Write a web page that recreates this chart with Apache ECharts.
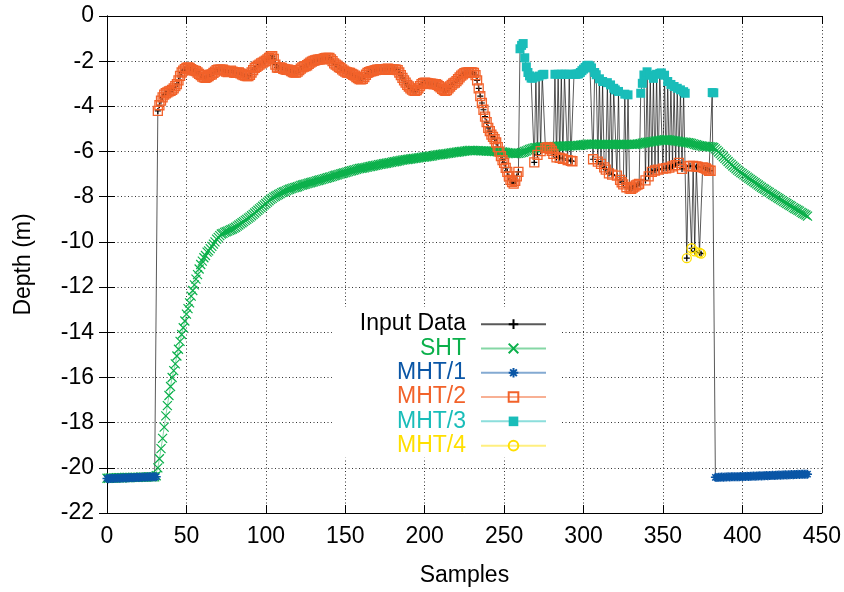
<!DOCTYPE html>
<html>
<head>
<meta charset="utf-8">
<script src="https://cdn.jsdelivr.net/npm/echarts@6/dist/echarts.min.js"></script>
<style>
  html, body { margin: 0; padding: 0; background: #fff; }
  #chart { width: 844px; height: 592px; }
</style>
</head>
<body>
<div id="chart"></div>
<script>
// Measured depth per sample (metres), samples 0..441
const inputDepth = [
  -20.47,-20.48,-20.47,-20.46,-20.47,-20.46,-20.46,-20.45,-20.46,-20.45, // 0
  -20.45,-20.44,-20.45,-20.44,-20.44,-20.43,-20.44,-20.43,-20.43,-20.42, // 10
  -20.43,-20.42,-20.42,-20.41,-20.42,-20.41,-20.41,-20.40,-20.41,-20.40, // 20
  -20.40,-20.39,-4.20,-3.95,-3.75,-3.60,-3.48,-3.42,-3.38,-3.34,         // 30
  -3.31,-3.27,-3.20,-3.10,-3.02,-2.85,-2.65,-2.50,-2.42,-2.35,           // 40
  -2.30,-2.28,-2.30,-2.35,-2.40,-2.42,-2.44,-2.50,-2.56,-2.62,           // 50
  -2.68,-2.72,-2.74,-2.70,-2.66,-2.60,-2.58,-2.52,-2.46,-2.40,           // 60
  -2.38,-2.37,-2.37,-2.38,-2.42,-2.46,-2.48,-2.45,-2.42,-2.46,           // 70
  -2.50,-2.52,-2.51,-2.50,-2.54,-2.58,-2.62,-2.64,-2.66,-2.66,           // 80
  -2.60,-2.50,-2.40,-2.30,-2.25,-2.20,-2.15,-2.10,-2.06,-2.02,           // 90
  -1.98,-1.92,-1.85,-1.80,-1.78,-1.90,-2.15,-2.28,-2.30,-2.28,           // 100
  -2.30,-2.34,-2.36,-2.38,-2.37,-2.40,-2.44,-2.48,-2.50,-2.51,           // 110
  -2.46,-2.40,-2.33,-2.27,-2.24,-2.22,-2.18,-2.12,-2.06,-2.02,           // 120
  -1.99,-1.96,-1.94,-1.93,-1.92,-1.92,-1.90,-1.87,-1.86,-1.85,           // 130
  -1.86,-1.92,-2.00,-2.10,-2.15,-2.20,-2.26,-2.30,-2.36,-2.42,           // 140
  -2.46,-2.50,-2.51,-2.52,-2.56,-2.60,-2.64,-2.70,-2.75,-2.79,           // 150
  -2.80,-2.78,-2.70,-2.60,-2.52,-2.48,-2.45,-2.44,-2.42,-2.40,           // 160
  -2.38,-2.37,-2.36,-2.37,-2.38,-2.36,-2.34,-2.33,-2.35,-2.38,           // 170
  -2.37,-2.36,-2.37,-2.40,-2.50,-2.62,-2.74,-2.85,-2.95,-3.05,           // 180
  -3.12,-3.20,-3.26,-3.30,-3.31,-3.28,-3.20,-3.10,-3.02,-2.97,           // 190
  -2.95,-2.96,-2.98,-2.99,-3.00,-3.01,-3.02,-3.02,-3.05,-3.10,           // 200
  -3.16,-3.22,-3.28,-3.31,-3.28,-3.20,-3.12,-3.05,-2.98,-2.95,           // 210
  -2.88,-2.80,-2.72,-2.64,-2.58,-2.53,-2.51,-2.50,-2.50,-2.50,           // 220
  -2.50,-2.52,-2.62,-2.85,-3.20,-3.55,-3.85,-4.15,-4.45,-4.70,           // 230
  -4.95,-5.10,-5.25,-5.35,-5.45,-5.60,-5.80,-6.00,-6.20,-6.38,           // 240
  -6.50,-6.72,-6.90,-7.10,-7.25,-7.35,-7.42,-7.30,-7.10,-6.90,           // 250
  -1.45,-1.30,-1.22,-1.85,-2.25,-2.50,-2.65,-2.75,-2.75,-6.48,           // 260
  -2.70,-6.15,-2.66,-5.98,-2.60,-2.58,-5.85,-5.82,-5.82,-5.88,           // 270
  -5.97,-6.10,-2.58,-6.26,-2.58,-6.28,-2.58,-6.32,-2.58,-2.58,           // 280
  -6.38,-2.58,-6.41,-6.43,-2.58,-2.58,-2.57,-2.56,-2.50,-2.42,           // 290
  -2.35,-2.28,-2.20,-2.18,-2.22,-2.30,-6.34,-2.50,-2.60,-6.45,           // 300
  -2.78,-6.55,-2.90,-6.70,-6.80,-2.95,-6.97,-3.05,-7.02,-3.20,           // 310
  -3.27,-7.07,-3.34,-7.25,-7.36,-7.45,-3.46,-7.58,-3.49,-7.64,           // 320
  -7.65,-7.60,-7.55,-7.50,-7.46,-7.43,-3.42,-2.98,-2.61,-7.28,           // 330
  -2.47,-7.10,-2.62,-6.90,-2.76,-6.84,-2.58,-6.80,-2.54,-2.52,           // 340
  -6.76,-2.62,-6.74,-2.90,-6.71,-3.03,-6.66,-3.12,-6.60,-3.20,           // 350
  -6.50,-3.27,-6.77,-3.35,-3.42,-10.72,-6.66,-6.63,-10.28,-6.64,         // 360
  -10.42,-6.66,-6.68,-10.48,-10.52,-6.70,-6.72,-6.75,-6.80,-6.85,        // 370
  -6.85,-3.39,-3.40,-20.42,-20.43,-20.42,-20.42,-20.41,-20.42,-20.41,    // 380
  -20.41,-20.40,-20.41,-20.40,-20.40,-20.39,-20.40,-20.39,-20.39,-20.38, // 390
  -20.39,-20.38,-20.38,-20.37,-20.38,-20.37,-20.37,-20.36,-20.37,-20.36, // 400
  -20.36,-20.35,-20.36,-20.35,-20.35,-20.34,-20.35,-20.34,-20.34,-20.33, // 410
  -20.34,-20.33,-20.33,-20.32,-20.33,-20.32,-20.32,-20.31,-20.32,-20.31, // 420
  -20.31,-20.30,-20.31,-20.30,-20.30,-20.29,-20.30,-20.29,-20.29,-20.28, // 430
  -20.29,-20.28                                                          // 440
];

// Single-hypothesis tracker estimate per sample
const shtDepth = [
  -20.46,-20.46,-20.45,-20.45,-20.45,-20.45,-20.44,-20.44,-20.44,-20.44, // 0
  -20.44,-20.43,-20.43,-20.43,-20.43,-20.43,-20.42,-20.42,-20.42,-20.42, // 10
  -20.42,-20.41,-20.41,-20.41,-20.41,-20.41,-20.40,-20.40,-20.40,-20.40, // 20
  -20.40,-20.35,-20.00,-19.60,-19.15,-18.70,-18.20,-17.70,-17.25,-16.80, // 30
  -16.40,-16.00,-15.70,-15.40,-15.05,-14.75,-14.40,-14.10,-13.80,-13.50, // 40
  -13.20,-12.95,-12.70,-12.40,-12.15,-11.90,-11.65,-11.45,-11.20,-11.00, // 50
  -10.85,-10.70,-10.60,-10.45,-10.40,-10.30,-10.20,-10.10,-10.00,-9.88,  // 60
  -9.80,-9.72,-9.65,-9.62,-9.58,-9.55,-9.52,-9.49,-9.46,-9.43,           // 70
  -9.39,-9.35,-9.30,-9.25,-9.20,-9.15,-9.10,-9.05,-9.00,-8.95,           // 80
  -8.90,-8.84,-8.78,-8.72,-8.66,-8.60,-8.54,-8.48,-8.42,-8.36,           // 90
  -8.30,-8.24,-8.18,-8.12,-8.07,-8.02,-7.98,-7.94,-7.90,-7.86,           // 100
  -7.82,-7.79,-7.76,-7.73,-7.70,-7.67,-7.64,-7.62,-7.60,-7.58,           // 110
  -7.56,-7.53,-7.50,-7.48,-7.46,-7.44,-7.42,-7.40,-7.38,-7.36,           // 120
  -7.34,-7.32,-7.30,-7.28,-7.26,-7.24,-7.22,-7.20,-7.18,-7.16,           // 130
  -7.14,-7.12,-7.10,-7.07,-7.05,-7.03,-7.01,-6.99,-6.97,-6.95,           // 140
  -6.93,-6.91,-6.89,-6.87,-6.85,-6.83,-6.81,-6.79,-6.77,-6.75,           // 150
  -6.74,-6.73,-6.72,-6.70,-6.69,-6.67,-6.66,-6.64,-6.63,-6.61,           // 160
  -6.60,-6.58,-6.57,-6.56,-6.54,-6.53,-6.52,-6.50,-6.49,-6.48,           // 170
  -6.46,-6.45,-6.44,-6.42,-6.41,-6.39,-6.38,-6.37,-6.36,-6.35,           // 180
  -6.34,-6.33,-6.32,-6.31,-6.30,-6.29,-6.28,-6.27,-6.26,-6.25,           // 190
  -6.24,-6.23,-6.22,-6.21,-6.20,-6.19,-6.17,-6.16,-6.15,-6.14,           // 200
  -6.13,-6.12,-6.11,-6.10,-6.09,-6.08,-6.07,-6.06,-6.05,-6.04,           // 210
  -6.03,-6.02,-6.01,-6.00,-5.99,-5.98,-5.97,-5.96,-5.95,-5.95,           // 220
  -5.95,-5.95,-5.96,-5.96,-5.96,-5.97,-5.97,-5.97,-5.97,-5.98,           // 230
  -5.98,-5.98,-5.99,-5.99,-6.00,-6.00,-6.01,-6.01,-6.02,-6.02,           // 240
  -6.03,-6.04,-6.05,-6.06,-6.07,-6.08,-6.09,-6.09,-6.09,-6.08,           // 250
  -6.07,-6.05,-6.03,-6.00,-5.97,-5.94,-5.91,-5.88,-5.86,-5.84,           // 260
  -5.83,-5.82,-5.81,-5.80,-5.80,-5.80,-5.80,-5.79,-5.79,-5.78,           // 270
  -5.78,-5.78,-5.77,-5.77,-5.77,-5.76,-5.76,-5.76,-5.75,-5.75,           // 280
  -5.75,-5.75,-5.75,-5.74,-5.74,-5.74,-5.73,-5.73,-5.72,-5.71,           // 290
  -5.70,-5.69,-5.68,-5.67,-5.67,-5.67,-5.67,-5.67,-5.68,-5.68,           // 300
  -5.69,-5.69,-5.69,-5.68,-5.68,-5.68,-5.68,-5.68,-5.68,-5.69,           // 310
  -5.69,-5.69,-5.69,-5.69,-5.69,-5.69,-5.68,-5.68,-5.68,-5.68,           // 320
  -5.68,-5.68,-5.68,-5.68,-5.67,-5.66,-5.65,-5.63,-5.62,-5.60,           // 330
  -5.59,-5.58,-5.57,-5.56,-5.55,-5.54,-5.53,-5.52,-5.51,-5.50,           // 340
  -5.49,-5.48,-5.48,-5.48,-5.49,-5.50,-5.51,-5.52,-5.53,-5.54,           // 350
  -5.55,-5.56,-5.57,-5.58,-5.59,-5.60,-5.61,-5.62,-5.64,-5.66,           // 360
  -5.68,-5.70,-5.72,-5.74,-5.75,-5.76,-5.77,-5.77,-5.78,-5.78,           // 370
  -5.79,-5.80,-5.82,-5.88,-5.95,-6.02,-6.09,-6.16,-6.23,-6.30,           // 380
  -6.37,-6.44,-6.51,-6.57,-6.64,-6.70,-6.76,-6.82,-6.88,-6.93,           // 390
  -6.98,-7.03,-7.08,-7.13,-7.18,-7.23,-7.28,-7.33,-7.38,-7.43,           // 400
  -7.48,-7.53,-7.58,-7.63,-7.67,-7.72,-7.77,-7.81,-7.86,-7.90,           // 410
  -7.95,-7.99,-8.04,-8.08,-8.13,-8.17,-8.22,-8.26,-8.30,-8.35,           // 420
  -8.39,-8.43,-8.48,-8.52,-8.56,-8.60,-8.64,-8.69,-8.73,-8.77,           // 430
  -8.81,-8.86                                                            // 440
];

// Which MHT hypothesis owns each sample: [firstSample, lastSample, track]
const trackRuns = [
  [0,31,1],[32,259,2],[260,268,3],[269,269,2],[270,270,3],[271,271,2],[272,272,3],
  [273,273,2],[274,275,3],[276,281,2],[282,282,3],[283,283,2],[284,284,3],[285,285,2],
  [286,286,3],[287,287,2],[288,289,3],[290,290,2],[291,291,3],[292,293,2],[294,305,3],
  [306,306,2],[307,308,3],[309,309,2],[310,310,3],[311,311,2],[312,312,3],[313,314,2],
  [315,315,3],[316,316,2],[317,317,3],[318,318,2],[319,320,3],[321,321,2],[322,322,3],
  [323,325,2],[326,326,3],[327,327,2],[328,328,3],[329,335,2],[336,338,3],[339,339,2],
  [340,340,3],[341,341,2],[342,342,3],[343,343,2],[344,344,3],[345,345,2],[346,346,3],
  [347,347,2],[348,349,3],[350,350,2],[351,351,3],[352,352,2],[353,353,3],[354,354,2],
  [355,355,3],[356,356,2],[357,357,3],[358,358,2],[359,359,3],[360,360,2],[361,361,3],
  [362,362,2],[363,364,3],[365,365,4],[366,367,2],[368,368,4],[369,369,2],[370,370,4],
  [371,372,2],[373,374,4],[375,380,2],[381,382,3],[383,441,1]
];

const seriesNames = ['Input Data', 'SHT', 'MHT/1', 'MHT/2', 'MHT/3', 'MHT/4'];
const seriesColors = ['#000000', '#0bb04b', '#0a56a6', '#f2622a', '#19bdb9', '#ffdf00'];
const xRange = { min: 0, max: 450, step: 50 };
const yRange = { min: -22, max: 0, step: 2 };
const xTitle = 'Samples';
const yTitle = 'Depth (m)';

const FONT = '"Liberation Sans", Arial, Helvetica, sans-serif';

const SYM_PLUS = 'path://M0,5H10M5,0V10';
const SYM_CROSS = 'path://M0,0L10,10M10,0L0,10';
const SYM_STAR = 'path://M0,5H10M5,0V10M1.5,1.5L8.5,8.5M8.5,1.5L1.5,8.5';

function pairs(values) {
  return values.map((v, i) => [i, v]);
}

function trackData(track) {
  const out = inputDepth.map((v, i) => [i, null]);
  trackRuns.forEach(([a, b, t]) => {
    if (t !== track) return;
    for (let i = a; i <= b; i++) out[i] = [i, inputDepth[i]];
  });
  return out;
}

function lineSeries(idx, data, symbol, size, filled, strokeW, lineOpacity) {
  const c = seriesColors[idx];
  return {
    name: seriesNames[idx],
    type: 'line',
    data: data,
    symbol: symbol,
    symbolSize: size,
    showAllSymbol: true,
    silent: true,
    connectNulls: false,
    lineStyle: { color: c, width: 1, opacity: lineOpacity },
    itemStyle: {
      color: filled ? c : 'transparent',
      borderColor: c,
      borderWidth: filled ? 0 : strokeW
    },
    emphasis: { disabled: true },
    z: 2 + idx
  };
}

const series = [
  lineSeries(0, pairs(inputDepth), SYM_PLUS, 6, false, 1.2, 0.65),
  lineSeries(1, pairs(shtDepth), SYM_CROSS, 9, false, 1.2, 0.5),
  lineSeries(2, trackData(1), SYM_STAR, 9, false, 1.5, 0.5),
  lineSeries(3, trackData(2), 'rect', 9, false, 1.3, 0.5),
  lineSeries(4, trackData(3), 'rect', 9, true, 0, 0.5),
  lineSeries(5, trackData(4), 'circle', 9, false, 1.3, 0.5)
];

const axisText = { color: '#000', fontFamily: FONT, fontSize: 23 };

function frameAxis(position, range) {
  return {
    type: 'value',
    position: position,
    min: range.min, max: range.max, interval: range.step,
    axisLine: { show: true, lineStyle: { color: '#000', width: 1 } },
    axisTick: { show: true, inside: true, length: 8, lineStyle: { color: '#000', width: 1 } },
    axisLabel: { show: false },
    splitLine: { show: false }
  };
}

const chart = echarts.init(document.getElementById('chart'), null, { renderer: 'canvas' });
chart.setOption({
  backgroundColor: '#ffffff',
  animation: false,
  textStyle: { fontFamily: FONT },
  grid: { left: 107, right: 21, top: 16, bottom: 74 },
  xAxis: [
    {
      type: 'value',
      position: 'bottom',
      min: xRange.min, max: xRange.max, interval: xRange.step,
      name: xTitle, nameLocation: 'middle', nameGap: 51,
      nameTextStyle: axisText,
      axisLine: { show: true, onZero: false, lineStyle: { color: '#000', width: 1 } },
      axisTick: { show: true, inside: true, length: 8, lineStyle: { color: '#000', width: 1 } },
      axisLabel: Object.assign({ margin: 12 }, axisText),
      splitLine: { show: true, lineStyle: { color: '#333', width: 1, type: [1, 2.5] } }
    },
    frameAxis('top', xRange)
  ],
  yAxis: [
    {
      type: 'value',
      position: 'left',
      min: yRange.min, max: yRange.max, interval: yRange.step,
      name: yTitle, nameLocation: 'middle', nameGap: 72,
      nameTextStyle: axisText,
      axisLine: { show: true, onZero: false, lineStyle: { color: '#000', width: 1 } },
      axisTick: { show: true, inside: true, length: 8, lineStyle: { color: '#000', width: 1 } },
      axisLabel: Object.assign({ margin: 13 }, axisText),
      splitLine: { show: true, lineStyle: { color: '#333', width: 1, type: [1, 2.5] } }
    },
    frameAxis('right', yRange)
  ],
  legend: {
    orient: 'vertical',
    align: 'right',
    right: 282,
    top: 307,
    padding: [5, 15, 0, 28],
    backgroundColor: '#ffffff',
    itemWidth: 65,
    itemHeight: 12,
    itemGap: 0,
    selectedMode: false,
    textStyle: { fontFamily: FONT, fontSize: 23, lineHeight: 24.3, padding: [0, 10, 0, 0] },
    data: seriesNames.map((n, i) => ({ name: n, textStyle: { color: seriesColors[i] } }))
  },
  series: series
});
</script>
</body>
</html>
